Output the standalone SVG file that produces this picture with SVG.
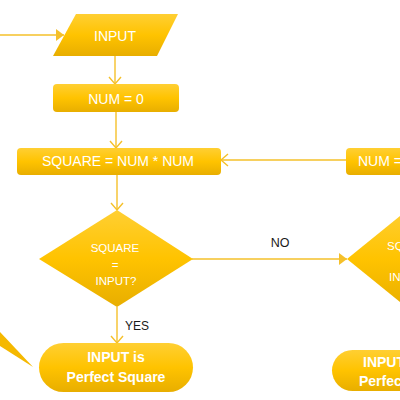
<svg xmlns="http://www.w3.org/2000/svg" width="400" height="400" viewBox="0 0 400 400">
<defs>
<linearGradient id="g" x1="0" y1="0" x2="0" y2="1">
<stop offset="0" stop-color="#FFCF33"/>
<stop offset="0.5" stop-color="#FFC300"/>
<stop offset="1" stop-color="#E8AE00"/>
</linearGradient>
<marker id="chev" markerWidth="14" markerHeight="14" refX="9" refY="7" orient="auto" markerUnits="userSpaceOnUse">
<path d="M2,1 L9,7 L2,13" fill="none" stroke="#F5C02A" stroke-width="1.4"/>
</marker>
<marker id="tri" markerWidth="10" markerHeight="14" refX="8" refY="7" orient="auto" markerUnits="userSpaceOnUse">
<path d="M0,1 L8,7 L0,13 Z" fill="#F5C02A"/>
</marker>
</defs>
<style>
.shape{fill:url(#g);}
.t{font-family:"Liberation Sans",Arial,sans-serif;fill:#fff;text-anchor:middle;}
.b{font-size:14px;}
.d{font-size:11.5px;}
.bold{font-size:14px;font-weight:bold;}
.lbl{font-family:"Liberation Sans",Arial,sans-serif;fill:#1a1a1a;font-size:12.5px;text-anchor:middle;}
.c{stroke:#F5C02A;stroke-width:1.4;fill:none;}
</style>
<g id="connectors">
<line class="c" x1="0" y1="35" x2="64" y2="35" marker-end="url(#tri)"/>
<line class="c" x1="115" y1="56" x2="115" y2="84" marker-end="url(#chev)"/>
<line class="c" x1="116" y1="112" x2="116" y2="148" marker-end="url(#chev)"/>
<line class="c" x1="346" y1="160" x2="221" y2="160" marker-end="url(#chev)"/>
<line class="c" x1="117" y1="175" x2="117" y2="210" marker-end="url(#chev)"/>
<line class="c" x1="192" y1="259" x2="347" y2="259" marker-end="url(#tri)"/>
<line class="c" x1="117" y1="307" x2="117" y2="343" marker-end="url(#chev)"/>
<polygon points="0,332 0,346 33,367" fill="#F5B800"/>
<text class="lbl" x="280" y="247">NO</text>
<text class="lbl" x="137" y="330" style="font-size:12px">YES</text>
</g>
<g id="input">
<polygon class="shape" points="76,14 178,14 157,56 53,56"/>
<text class="t b" x="115" y="41">INPUT</text>
</g>
<g id="num0">
<rect class="shape" x="53" y="84" width="126" height="28" rx="4"/>
<text class="t b" x="116" y="104">NUM = 0</text>
</g>
<g id="square">
<rect class="shape" x="17" y="148" width="204" height="27" rx="4"/>
<text class="t b" x="118" y="166">SQUARE = NUM * NUM</text>
</g>
<g id="numinc">
<rect class="shape" x="346" y="148" width="126" height="27" rx="4"/>
<text class="t b" x="358" y="166" style="text-anchor:start">NUM = NUM + 1</text>
</g>
<g id="decision1">
<polygon class="shape" points="117,210 193,259 117,307 39,259"/>
<text class="t d" x="115" y="252">SQUARE</text>
<text class="t d" x="115" y="269">=</text>
<text class="t d" x="116" y="285">INPUT?</text>
</g>
<g id="decision2">
<polygon class="shape" points="410,208 473,259 410,310 347,259"/>
<text class="t d" x="387" y="250" style="text-anchor:start">SQUARE</text>
<text class="t d" x="389" y="281" style="text-anchor:start">INPUT?</text>
</g>
<g id="yes">
<rect class="shape" x="39" y="343" width="154" height="49" rx="24.5"/>
<text class="t bold" x="116" y="362">INPUT is</text>
<text class="t bold" x="116" y="382">Perfect Square</text>
</g>
<g id="no">
<rect class="shape" x="332" y="350" width="154" height="41" rx="20.5"/>
<text class="t bold" x="363" y="367" style="text-anchor:start">INPUT is NOT</text>
<text class="t bold" x="359" y="386" style="text-anchor:start">Perfect Square</text>
</g>
</svg>
